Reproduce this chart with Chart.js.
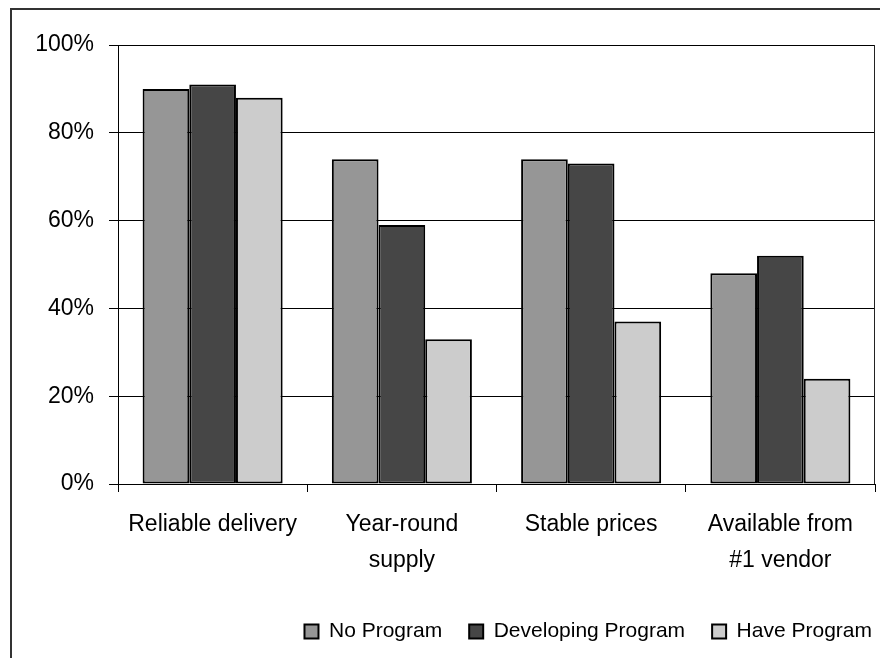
<!DOCTYPE html>
<html>
<head>
<meta charset="utf-8">
<script src="https://cdn.jsdelivr.net/npm/chart.js@4"></script>
<style>
  html, body { margin: 0; padding: 0; background: #fff; }
  #wrap { position: relative; width: 880px; height: 658px; }
</style>
</head>
<body>
<div id="wrap"><canvas id="programChart" width="880" height="658"></canvas></div>
<script>
// Kategoriyalar va qiymatlar (%)
const categories = [['Reliable delivery'], ['Year-round', 'supply'], ['Stable prices'], ['Available from', '#1 vendor']];
const noProgram = [90, 74, 74, 48];
const developingProgram = [91, 59, 73, 52];
const haveProgram = [88, 33, 37, 24];
const yTicks = [0, 20, 40, 60, 80, 100];

const fontFamily = '"Liberation Sans", Arial, sans-serif';

// Tashqi ramka va chizma maydonining o'ng chegarasi
const framePlugin = {
    id: 'frame',
    afterLayout(chart) {
        // legendani o'ngga biroz surish
        if (chart.legend) {
            chart.legend.left += 24;
            chart.legend.right += 24;
        }
    },
    beforeDraw(chart) {
        const c = chart.ctx;
        c.save();
        c.strokeStyle = '#333';
        c.lineWidth = 2;
        c.beginPath();
        c.moveTo(11, chart.height + 5);
        c.lineTo(11, 9);
        c.lineTo(chart.width + 5, 9);
        c.stroke();
        c.restore();
    },
    afterDatasetsDraw(chart) {
        const a = chart.chartArea;
        const c = chart.ctx;
        c.save();
        c.strokeStyle = '#222';
        c.lineWidth = 1;
        c.beginPath();
        c.moveTo(a.right - 0.5, a.top);
        c.lineTo(a.right - 0.5, a.bottom);
        c.stroke();
        c.restore();
    }
};

const ctx = document.getElementById('programChart');

new Chart(ctx, {
    type: 'bar',
    data: {
        labels: categories,
        datasets: [
            { label: 'No Program', data: noProgram, backgroundColor: '#969696' },
            { label: 'Developing Program', data: developingProgram, backgroundColor: '#464646' },
            { label: 'Have Program', data: haveProgram, backgroundColor: '#cccccc' }
        ].map(d => Object.assign(d, {
            borderColor: '#000',
            borderWidth: 2,
            borderSkipped: false,
            barPercentage: 1,
            categoryPercentage: 0.74
        }))
    },
    options: {
        responsive: false,
        animation: false,
        layout: { padding: { top: 45, right: 5, bottom: 6, left: 0 } },
        plugins: {
            legend: {
                position: 'bottom',
                align: 'end',
                labels: {
                    boxWidth: 14,
                    boxHeight: 14,
                    padding: 27,
                    color: '#000',
                    font: { family: fontFamily, size: 21 }
                }
            },
            tooltip: { enabled: false }
        },
        scales: {
            y: {
                min: 0,
                max: 100,
                afterBuildTicks(scale) {
                    scale.ticks = yTicks.map(v => ({ value: v }));
                },
                afterFit(scale) { scale.width = 118; },
                ticks: {
                    color: '#000',
                    padding: 15,
                    font: { family: fontFamily, size: 23 },
                    callback: v => v + '%'
                },
                grid: { color: '#000', lineWidth: 1, tickLength: 9 },
                border: { color: '#000', width: 1 }
            },
            x: {
                afterFit(scale) { scale.height = 110; },
                ticks: {
                    color: '#000',
                    padding: 15,
                    maxRotation: 0,
                    font: { family: fontFamily, size: 23, lineHeight: 1.565 }
                },
                grid: { drawOnChartArea: false, offset: true, color: '#000', tickLength: 8 },
                border: { color: '#000', width: 1 }
            }
        }
    },
    plugins: [framePlugin]
});
</script>
</body>
</html>
